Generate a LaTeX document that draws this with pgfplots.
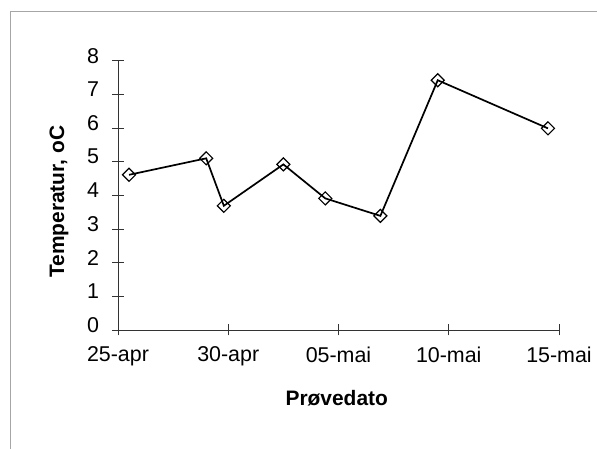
\documentclass[border=0pt]{standalone}
\usepackage{fontspec}
\setmainfont{Liberation Sans}
\usepackage{pgfplots}
\pgfplotsset{compat=1.18}
\begin{document}
\begin{tikzpicture}
\useasboundingbox (0,0) rectangle (597bp,449bp);
\fill[white] (0,0) rectangle (597bp,449bp);
\draw[gray!70, line width=0.8bp] (10bp,-5bp) -- (10bp,438bp) -- (600bp,438bp);
\begin{axis}[
  at={(118bp,119bp)}, anchor=south west,
  scale only axis, width=441bp, height=269.3bp,
  xmin=0, xmax=20, ymin=0, ymax=8,
  axis x line*=bottom, axis y line*=left,
  axis line style={black!80, line width=0.7bp},
  xtick={0,5,10,15,20},
  xticklabels={25-apr,30-apr,05-mai,10-mai,15-mai},
  ytick={0,1,2,3,4,5,6,7,8},
  tick align=center, major tick length=11bp,
  tick style={black!80, line width=0.7bp},
  /pgf/number format/assume math mode=true,
  ticklabel style={font=\fontsize{21.5}{24}\selectfont},
  xticklabel style={yshift=-8bp},
  yticklabel style={xshift=-10bp, yshift=5bp},
  xlabel={\textbf{Prøvedato}},
  ylabel={\textbf{Temperatur, oC}},
  label style={font=\fontsize{21}{24}\selectfont},
  xlabel style={at={(axis description cs:0.496,-0.255)}, anchor=center},
  ylabel style={at={(axis description cs:-0.134,0.476)}, anchor=center, rotate=0},
  clip=false,
]
\addplot[black, line width=1.7bp, mark=square, mark size=4.6bp,
  mark options={rotate=45, fill=white, line width=1.2bp, solid}]
  coordinates {
  (0.5,4.61) (4.0,5.10) (4.8,3.69) (7.5,4.92) (9.4,3.91)
  (11.9,3.39) (14.5,7.42) (19.5,5.99)
  };
\end{axis}
\end{tikzpicture}
\end{document}
